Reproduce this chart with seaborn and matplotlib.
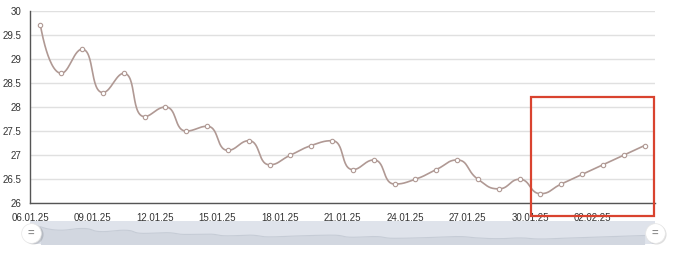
import numpy as np
import pandas as pd
import matplotlib
matplotlib.use("Agg")
import matplotlib.pyplot as plt
import matplotlib.dates as mdates
from matplotlib.patches import Rectangle
import seaborn as sns

# ---------------- data ----------------
first_day = "2025-01-06 12:00"
values = [29.7, 28.7, 29.2, 28.3, 28.7, 27.8, 28.0, 27.5, 27.6, 27.1,
          27.3, 26.8, 27.0, 27.2, 27.3, 26.7, 26.9, 26.4, 26.5, 26.7,
          26.9, 26.5, 26.3, 26.5, 26.2, 26.4, 26.6, 26.8, 27.0, 27.2]
x_start = "2025-01-06"
x_end = "2025-02-05"
tick_step = "3D"
y_ticks = [26, 26.5, 27, 27.5, 28, 28.5, 29, 29.5, 30]

dates = pd.date_range(first_day, periods=len(values), freq="D")
xnum = mdates.date2num(dates.to_pydatetime())
yv = np.array(values, dtype=float)

W, H = 680, 254
plot_box = (30, 10.7, 655, 203.3)
px_day = (plot_box[2] - plot_box[0]) / 30.0
px_unit = (plot_box[3] - plot_box[1]) / 4.0


def echarts_smooth(xs, ys, smooth=0.5, n=30):
    pts = list(zip(xs, ys))
    N = len(pts)
    out_x, out_y = [xs[0]], [ys[0]]
    cp0 = pts[0]
    prev = pts[0]
    for i in range(1, N):
        x, y = pts[i]
        px_, py_ = prev
        if i + 1 >= N:
            cp1 = (x, y)
            ncp0 = (x, y)
        else:
            nx, ny = pts[i + 1]
            vx, vy = nx - px_, ny - py_
            l0 = np.hypot(x - px_, y - py_)
            l1 = np.hypot(nx - x, ny - y)
            r = l1 / (l0 + l1)
            ncx = x + vx * smooth * r
            ncy = y + vy * smooth * r
            ncx = min(ncx, max(nx, x)); ncy = min(ncy, max(ny, y))
            ncx = max(ncx, min(nx, x)); ncy = max(ncy, min(ny, y))
            vx, vy = ncx - x, ncy - y
            c1x = x - vx * l0 / l1
            c1y = y - vy * l0 / l1
            c1x = min(c1x, max(px_, x)); c1y = min(c1y, max(py_, y))
            c1x = max(c1x, min(px_, x)); c1y = max(c1y, min(py_, y))
            vx, vy = x - c1x, y - c1y
            ncx = x + vx * l1 / l0
            ncy = y + vy * l1 / l0
            cp1 = (c1x, c1y)
            ncp0 = (ncx, ncy)
        t = np.linspace(0, 1, n)[1:]
        bx = ((1 - t) ** 3 * px_ + 3 * (1 - t) ** 2 * t * cp0[0]
              + 3 * (1 - t) * t ** 2 * cp1[0] + t ** 3 * x)
        by = ((1 - t) ** 3 * py_ + 3 * (1 - t) ** 2 * t * cp0[1]
              + 3 * (1 - t) * t ** 2 * cp1[1] + t ** 3 * y)
        out_x.extend(bx); out_y.extend(by)
        cp0 = ncp0
        prev = (x, y)
    return np.array(out_x), np.array(out_y)


sx, sy = echarts_smooth(list(xnum * px_day), list(yv * px_unit))
curve = pd.DataFrame({"x": sx / px_day, "y": sy / px_unit})
points = pd.DataFrame({"x": xnum, "y": yv})

# ---------------- figure ----------------
sns.set_style("white")
plt.rcParams["font.family"] = ["Liberation Sans", "DejaVu Sans"]

fig = plt.figure(figsize=(W / 100, H / 100), dpi=100)


def frac(x0, y0, x1, y1):
    return [x0 / W, 1 - y1 / H, (x1 - x0) / W, (y1 - y0) / H]


ax = fig.add_axes(frac(*plot_box))
line_color = "#b09994"
sns.lineplot(data=curve, x="x", y="y", sort=False, estimator=None,
             color=line_color, lw=1.2, ax=ax)
sns.scatterplot(data=points, x="x", y="y", s=10, color="white",
                edgecolor=line_color, linewidth=0.8, zorder=5, ax=ax)

xmin = mdates.date2num(pd.Timestamp(x_start).to_pydatetime())
xmax = mdates.date2num(pd.Timestamp(x_end).to_pydatetime())
ax.set_xlim(xmin, xmax)
ax.set_ylim(26, 30)
ticks = pd.date_range(x_start, pd.Timestamp(x_end) - pd.Timedelta("1D"), freq=tick_step)
ax.set_xticks(mdates.date2num(ticks.to_pydatetime()))
ax.xaxis.set_major_formatter(mdates.DateFormatter("%d.%m.%y"))
ax.set_yticks(y_ticks)
ax.set_yticklabels([f"{v:g}" for v in y_ticks])
ax.set_xlabel("")
ax.set_ylabel("")
ax.grid(axis="y", color="#e0e0e0", lw=1)
ax.grid(axis="x", visible=False)
for s in ["top", "right"]:
    ax.spines[s].set_visible(False)
for s in ["left", "bottom"]:
    ax.spines[s].set_color("#555555")
    ax.spines[s].set_linewidth(1)
ax.tick_params(axis="x", direction="out", length=5, width=1, color="#555555",
               labelsize=7, labelcolor="#333333", pad=2)
ax.tick_params(axis="y", length=0, labelsize=7, labelcolor="#333333", pad=6)

# red highlight rectangle
fig.patches.append(Rectangle((531 / W, 1 - 216 / H), (654 - 531) / W, (216 - 97) / H,
                             transform=fig.transFigure, fill=False,
                             edgecolor="#d9432f", lw=1.6, zorder=10))

# ---------------- data-zoom slider ----------------
sl = fig.add_axes(frac(30, 221, 655, 244))
sl.set_facecolor("#dfe3eb")
for s in sl.spines.values():
    s.set_visible(False)
sl.fill_between(curve["x"], curve["y"], 20, color="#d2d7e0", lw=0)
sns.lineplot(data=curve, x="x", y="y", sort=False, estimator=None,
             color="#c6ccd6", lw=0.8, ax=sl)
sl.set_xlim(xmin, xmax)
sl.set_ylim(24.78, 31.32)
sl.set_xticks([])
sl.set_yticks([])
sl.set_xlabel("")
sl.set_ylabel("")
ymid = (24.78 + 31.32) / 2
for hx in [xmin + 0.05, xmax]:
    sl.scatter([hx + 0.07], [ymid - 0.45], s=210, color="#000000", alpha=0.13,
               lw=0, clip_on=False, zorder=6)
    sl.scatter([hx], [ymid], s=200, color="white", edgecolor="#e6e6e6", lw=0.5,
               clip_on=False, zorder=7)
    sl.text(hx, ymid, "=", ha="center", va="center", fontsize=8,
            color="#8a8a8a", fontweight="bold", zorder=8, clip_on=False)

fig.savefig("out.png", dpi=100)
